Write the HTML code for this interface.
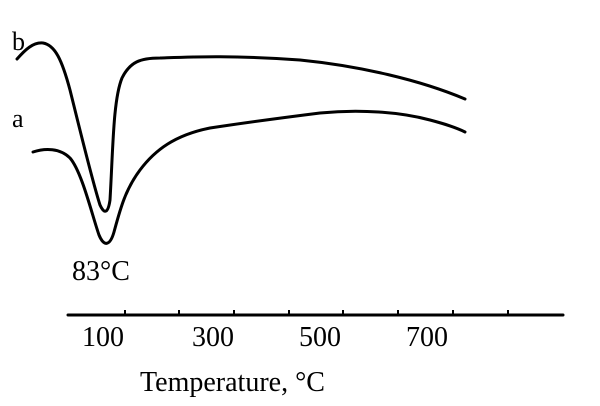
<!DOCTYPE html>
<html><head><style>body{margin:0;background:#fff}svg{display:block}</style></head><body>
<svg width="600" height="406" viewBox="0 0 600 406" font-family="Liberation Serif, serif" fill="#000">
<g fill="none" stroke="#000" stroke-width="3" stroke-linecap="round">
<path d="M17,59 C25,50 33,42 43,43 C55,45 62,60 70,90 C80,130 92,180 100,205 C104,214 108,214 110,200 C113,150 113,100 122,78 C130,62 140,58 160,58 C190,57 230,55 300,60 C360,66 420,80 465,99"/>
<path d="M33,152 C45,148 60,148 70,158 C82,172 92,215 99,235 C104,247 110,246 114,232 C120,210 125,190 140,170 C155,150 175,135 210,128 C250,122 280,118 320,113 C360,109 400,112 430,120 C445,124 455,127 465,132"/>
<path d="M68,315 H563"/>
</g>
<g stroke="#000" stroke-width="2">
<path d="M125,315V310M179,315V310M234,315V310M289,315V310M343,315V310M398,315V310M453,315V310M508,315V310"/>
</g>
<g font-size="28">
<text x="12" y="50" font-size="26">b</text>
<text x="12" y="127" font-size="26">a</text>
<text x="72" y="280">83°C</text>
<text x="103" y="346" text-anchor="middle">100</text>
<text x="213" y="346" text-anchor="middle">300</text>
<text x="320" y="346" text-anchor="middle">500</text>
<text x="427" y="346" text-anchor="middle">700</text>
<text x="140" y="391">Temperature, °C</text>
</g>
</svg>
</body></html>
